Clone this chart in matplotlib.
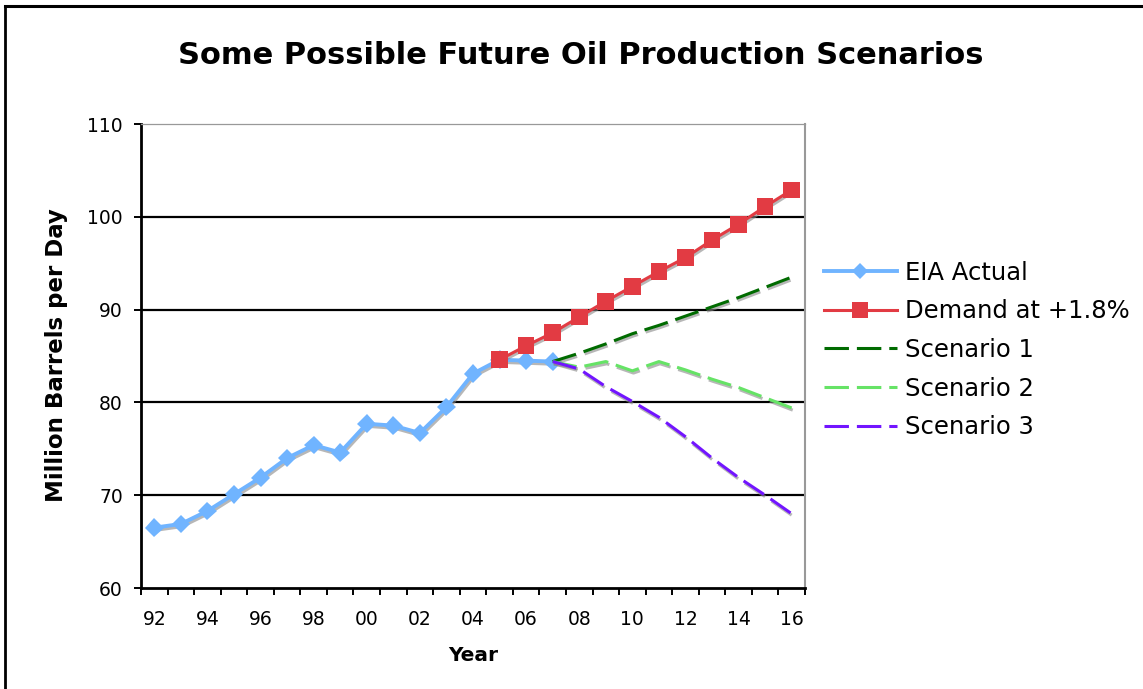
import numpy as np
import matplotlib
matplotlib.use('Agg')
import matplotlib.pyplot as plt
import matplotlib.patheffects as pe
from matplotlib.lines import Line2D

# ==========================================
# 1. 資料
# ==========================================
year_labels = ['92', '93', '94', '95', '96', '97', '98', '99', '00', '01', '02', '03',
               '04', '05', '06', '07', '08', '09', '10', '11', '12', '13', '14', '15', '16']

# EIA Actual: 92 ~ 07
eia_actual = [66.5, 66.9, 68.3, 70.1, 71.9, 74.0, 75.4, 74.6, 77.7, 77.5, 76.7, 79.5,
              83.1, 84.6, 84.5, 84.4]
# Demand at +1.8%: 05 ~ 16
demand_from = '05'
demand = [84.6, 86.1, 87.5, 89.2, 90.9, 92.5, 94.1, 95.6, 97.5, 99.2, 101.1, 102.9]
# 三種情境: 07 ~ 16
scenario_from = '07'
scenario_1 = [84.4, 85.3, 86.3, 87.4, 88.3, 89.3, 90.3, 91.3, 92.4, 93.5]
scenario_2 = [84.4, 83.8, 84.4, 83.4, 84.4, 83.5, 82.5, 81.6, 80.5, 79.4]
scenario_3 = [84.4, 83.6, 81.7, 80.1, 78.4, 76.3, 74.0, 71.9, 70.0, 68.0]

y_ticks = [60, 70, 80, 90, 100, 110]

# 顏色
BLUE = '#70B4FF'
RED = '#E23B43'
DGREEN = '#006B00'
LGREEN = '#66E366'
PURPLE = '#7215FF'

# ==========================================
# 2. 繪圖
# ==========================================
fig = plt.figure(figsize=(11.43, 6.89), dpi=100)
ax = fig.add_axes([141 / 1143, 1 - 588 / 689, (805 - 141) / 1143, (588 - 124) / 689])

x = np.arange(len(year_labels))
x_eia = x[:len(eia_actual)]
i_dem = year_labels.index(demand_from)
x_dem = x[i_dem:i_dem + len(demand)]
i_sc = year_labels.index(scenario_from)
x_sc = x[i_sc:i_sc + len(scenario_1)]

# Excel 風格的灰色陰影
shadow = [pe.SimpleLineShadow(offset=(0.8, -1.6), shadow_color='#888888', alpha=0.6), pe.Normal()]
dash = (8, 2.6)

# 格線 (只畫內部的)
for v in y_ticks[1:-1]:
    ax.axhline(v, color='black', lw=1.6, zorder=1)

ax.plot(x_eia, eia_actual, color=BLUE, lw=2.8, marker='D', ms=9.5, mew=0,
        path_effects=shadow, zorder=3)
ax.plot(x_dem, demand, color=RED, lw=2.2, marker='s', ms=12, mew=0,
        path_effects=shadow, zorder=4)
ax.plot(x_sc, scenario_1, color=DGREEN, lw=2.2, dashes=dash, path_effects=shadow, zorder=3)
ax.plot(x_sc, scenario_2, color=LGREEN, lw=2.2, dashes=dash, path_effects=shadow, zorder=3)
ax.plot(x_sc, scenario_3, color=PURPLE, lw=2.2, dashes=dash, path_effects=shadow, zorder=3)

# 軸設定
ax.set_xlim(-0.5, len(year_labels) - 0.5)
ax.set_ylim(y_ticks[0], y_ticks[-1])
boundaries = np.arange(len(year_labels) + 1) - 0.5
ax.set_xticks(boundaries, [''] * len(boundaries))
ax.set_xticks(x[::2], year_labels[::2], minor=True)
ax.tick_params(axis='x', which='major', direction='out', length=5, width=1.4, color='black')
ax.tick_params(axis='x', which='minor', length=0, pad=16, labelsize=13.5)
ax.set_yticks(y_ticks, [str(v) for v in y_ticks])
ax.tick_params(axis='y', direction='out', length=5, width=1.4, pad=8, labelsize=13.5)

for s in ['left', 'bottom']:
    ax.spines[s].set_color('black')
    ax.spines[s].set_linewidth(2.0)
ax.spines['top'].set_color('#999999')
ax.spines['top'].set_linewidth(0.9)
ax.spines['right'].set_color('#999999')
ax.spines['right'].set_linewidth(1.5)

ax.set_xlabel('Year', fontsize=14.5, fontweight='bold', labelpad=12)

# 標題與 Y 軸標籤
fig.text(581 / 1143, 1 - 55 / 689, 'Some Possible Future Oil Production Scenarios',
         fontsize=22, fontweight='bold', ha='center', va='center')
fig.text(56 / 1143, 1 - 355 / 689, 'Million Barrels per Day', rotation=90,
         fontsize=16.5, fontweight='bold', ha='center', va='center')

# 圖例 (不加陰影)
handles = [
    Line2D([], [], color=BLUE, lw=2.8, marker='D', ms=8.5, mew=0),
    Line2D([], [], color=RED, lw=2.2, marker='s', ms=12, mew=0),
    Line2D([], [], color=DGREEN, lw=2.2, dashes=dash),
    Line2D([], [], color=LGREEN, lw=2.2, dashes=dash),
    Line2D([], [], color=PURPLE, lw=2.2, dashes=dash),
]
labels = ['EIA Actual', 'Demand at +1.8%', 'Scenario 1', 'Scenario 2', 'Scenario 3']
fig.legend(handles, labels, loc='center left', bbox_to_anchor=(824 / 1143, 1 - 350 / 689),
           frameon=False, fontsize=17.5, numpoints=1, handlelength=3.0,
           handletextpad=0.35, labelspacing=0.6, borderpad=0, borderaxespad=0)

# 外框 (左、上)
fig.add_artist(Line2D([5 / 1143, 5 / 1143], [0, 1 - 6 / 689], color='black', lw=2))
fig.add_artist(Line2D([5 / 1143, 1], [1 - 6 / 689, 1 - 6 / 689], color='black', lw=2.2))

fig.savefig('out.png', dpi=100)
